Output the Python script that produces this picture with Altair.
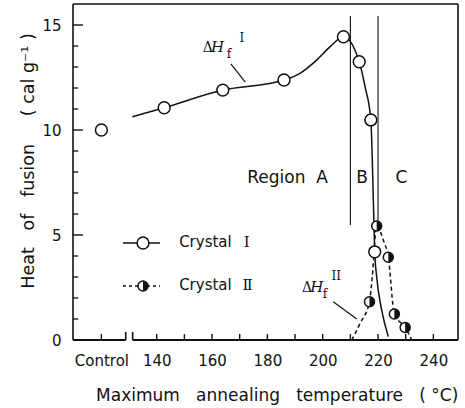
import altair as alt
import pandas as pd

# ---------------- values ----------------
X_DOMAIN = [109.74, 248.9]
Y_DOMAIN = [0, 16]

x_tick_values = [120, 140, 160, 180, 200, 220, 240]
x_tick_labels = ["Control", "140", "160", "180", "200", "220", "240"]
x_all_ticks = [120, 140, 150, 160, 170, 180, 190, 200, 210, 220, 230, 240]
y_tick_values = [0, 5, 10, 15]
y_minor_ticks = [1, 2, 3, 4, 6, 7, 8, 9, 11, 12, 13, 14]
# inward tick lengths, in axis units
X_TICK_LEN = 0.28
Y_MAJOR_LEN = 3.6
Y_MINOR_LEN = 1.9

# Crystal I (open circles)
c1_x = [120, 142.7, 163.9, 186.0, 207.5, 213.2, 217.4, 218.8]
c1_y = [10.0, 11.06, 11.9, 12.38, 14.44, 13.25, 10.48, 4.2]
# Crystal II (half-filled circles)
c2_x = [216.9, 219.5, 223.7, 225.9, 229.8]
c2_y = [1.82, 5.43, 3.94, 1.24, 0.6]

# drawn curves
curve1_x = [131.2, 142.7, 163.9, 186.0, 191.8, 197.8, 202.7, 207.5, 213.2, 215.3,
            217.4, 218.3, 218.8, 219.5, 221.3, 223.7]
curve1_y = [10.63, 11.06, 11.9, 12.38, 12.7, 13.33, 13.97, 14.44, 13.25, 12.06,
            10.48, 6.67, 4.2, 3.01, 1.43, 0.16]
curve2_x = [210.5, 213.5, 216.9, 217.9, 219.5, 221.9, 223.7, 225.9, 229.8, 232.2]
curve2_y = [0.0, 0.79, 1.82, 3.0, 5.43, 4.76, 3.94, 1.24, 0.6, 0.0]

# region boundaries
region_x = [210, 220]
region_y = [5.48, 5.45]
region_y2 = [15.43, 15.43]
region_labels = ["Region\u00a0\u00a0A", "B", "C"]
region_label_x = [187.3, 214.2, 228.5]
region_label_y = [7.48, 7.48, 7.48]

# annotation leader lines
lead_x = [166.8, 203.8]
lead_x2 = [172.0, 212.3]
lead_y = [13.15, 1.82]
lead_y2 = [12.28, 1.0]

# ΔH_f annotation pieces
delta_x = [156.6, 192.5]
delta_y = [13.71, 2.29]
h_x = [159.6, 195.5]
h_y = [13.71, 2.29]
f_x = [165.3, 200.0]
f_y = [13.43, 2.0]
sup_text = ["I", "II"]
sup_x = [169.9, 203.2]
sup_y = [14.19, 2.86]

# legend
legend_line_x = [127.8, 127.8]
legend_line_x2 = [141.2, 141.2]
legend_line_y = [4.62, 2.57]
legend_marker_x = [135.05]
legend_text = ["Crystal", "Crystal"]
legend_text_x = [148.1, 148.1]
legend_text_y = [4.43, 2.38]
legend_num = ["I", "\u2161"]
legend_num_x = [171.5, 171.0]

# frame / broken axis
axis_seg_x = [109.74, 131.3]
axis_seg_x2 = [128.8, 248.9]
break_x = [128.8, 131.3]
break_y2 = [0.38, 0.38]

FONT = "DejaVu Sans"
SERIF = "DejaVu Serif"
INK = "#111111"

XS = alt.Scale(domain=X_DOMAIN, nice=False, zero=False)
YS = alt.Scale(domain=Y_DOMAIN, nice=False, zero=False)

label_expr = " : ".join(
    [f"datum.value == {v} ? '{l}'" for v, l in zip(x_tick_values, x_tick_labels)]
) + " : ''"

NB = "\u00a0"
X_AXIS = alt.Axis(values=x_tick_values, labelExpr=label_expr, ticks=False, domain=False,
                  grid=False, labelFont=FONT, labelFontSize=15, labelColor=INK,
                  labelPadding=13, labelFlush=False,
                  title=f"Maximum{NB*3}annealing{NB*3}temperature{NB*3}({NB}\u00b0C)",
                  titleFont=FONT, titleFontSize=17, titleFontWeight="normal", titleColor=INK,
                  titleX=203.7, titleY=60, titleBaseline="alphabetic", titleAlign="center")
Y_AXIS = alt.Axis(values=y_tick_values, ticks=False, domain=False, grid=False,
                  labelFont=FONT, labelFontSize=15, labelColor=INK, labelPadding=12,
                  title=f"Heat{NB*3}of{NB*3}fusion{NB*5}({NB}cal{NB}g\u207b\u00b9{NB})",
                  titleFont=FONT, titleFontSize=17.5, titleFontWeight="normal", titleColor=INK,
                  titleX=-45, titleY=156.5, titleBaseline="middle", titleAlign="center")


def X(f="x"):
    return alt.X(f"{f}:Q", scale=XS, axis=X_AXIS)


def Y(f="y"):
    return alt.Y(f"{f}:Q", scale=YS, axis=Y_AXIS)


# ---------------- segments: frame, broken axis, inward ticks, leaders ----------------
seg_rows = []
# frame: left, top, right
seg_rows.append((X_DOMAIN[0], X_DOMAIN[0], Y_DOMAIN[0], Y_DOMAIN[1], 1.6))
seg_rows.append((X_DOMAIN[0], X_DOMAIN[1], Y_DOMAIN[1], Y_DOMAIN[1], 1.6))
seg_rows.append((X_DOMAIN[1], X_DOMAIN[1], Y_DOMAIN[0], Y_DOMAIN[1], 1.6))
# broken bottom axis
for a, b in zip(axis_seg_x, axis_seg_x2):
    seg_rows.append((a, b, 0, 0, 1.8))
for a, b in zip(break_x, break_y2):
    seg_rows.append((a, a, 0, b, 1.6))
# inward ticks
for v in x_all_ticks:
    seg_rows.append((v, v, 0, X_TICK_LEN, 1.4))
for v in y_tick_values:
    seg_rows.append((X_DOMAIN[0], X_DOMAIN[0] + Y_MAJOR_LEN, v, v, 1.4))
for v in y_minor_ticks:
    seg_rows.append((X_DOMAIN[0], X_DOMAIN[0] + Y_MINOR_LEN, v, v, 1.3))
# region boundaries
for a, b, c in zip(region_x, region_y, region_y2):
    seg_rows.append((a, a, b, c, 1.1))
# leader lines
for a, b, c, d in zip(lead_x, lead_x2, lead_y, lead_y2):
    seg_rows.append((a, b, c, d, 1.2))
# legend solid line
seg_rows.append((legend_line_x[0], legend_line_x2[0], legend_line_y[0], legend_line_y[0], 1.5))

seg_df = pd.DataFrame(seg_rows, columns=["x", "x2", "y", "y2", "w"])
seg_df["id"] = range(len(seg_df))
segments = alt.Chart(seg_df).mark_rule(color=INK).encode(
    x=X(), x2="x2:Q", y=Y(), y2="y2:Q",
    strokeWidth=alt.StrokeWidth("w:Q", scale=None),
    detail="id:N",
)

# ---------------- layers ----------------
curve1 = alt.Chart(pd.DataFrame({"x": curve1_x, "y": curve1_y, "o": range(len(curve1_x))})).mark_line(
    color=INK, strokeWidth=1.5, interpolate="monotone").encode(x=X(), y=Y(), order="o:Q")
curve2 = alt.Chart(pd.DataFrame({"x": curve2_x, "y": curve2_y, "o": range(len(curve2_x))})).mark_line(
    color=INK, strokeWidth=1.5, strokeDash=[4, 3], interpolate="monotone").encode(
    x=X(), y=Y(), order="o:Q")

leg_lines2 = alt.Chart(pd.DataFrame({"x": legend_line_x[1:], "x2": legend_line_x2[1:],
                                     "y": legend_line_y[1:]})).mark_rule(
    color=INK, strokeWidth=1.5, strokeDash=[3, 3]).encode(x=X(), x2="x2:Q", y=Y())

region_text = alt.Chart(pd.DataFrame({"x": region_label_x, "y": region_label_y, "t": region_labels})).mark_text(
    font=FONT, fontSize=17, color=INK, align="center", baseline="alphabetic").encode(
    x=X(), y=Y(), text="t:N")
leg_text = alt.Chart(pd.DataFrame({"x": legend_text_x, "y": legend_text_y, "t": legend_text})).mark_text(
    font=FONT, fontSize=15, color=INK, align="left", baseline="alphabetic").encode(
    x=X(), y=Y(), text="t:N")
leg_num_t = alt.Chart(pd.DataFrame({"x": legend_num_x, "y": legend_text_y, "t": legend_num})).mark_text(
    font=SERIF, fontSize=15, color=INK, align="left", baseline="alphabetic").encode(
    x=X(), y=Y(), text="t:N")

delta_t = alt.Chart(pd.DataFrame({"x": delta_x, "y": delta_y, "t": ["\u0394", "\u0394"]})).mark_text(
    font=SERIF, fontSize=14, color=INK, align="left", baseline="alphabetic").encode(
    x=X(), y=Y(), text="t:N")
h_t = alt.Chart(pd.DataFrame({"x": h_x, "y": h_y, "t": ["H", "H"]})).mark_text(
    font=SERIF, fontSize=15, fontStyle="italic", color=INK, align="left", baseline="alphabetic").encode(
    x=X(), y=Y(), text="t:N")
f_t = alt.Chart(pd.DataFrame({"x": f_x, "y": f_y, "t": ["f", "f"]})).mark_text(
    font=SERIF, fontSize=12, color=INK, align="left", baseline="alphabetic").encode(
    x=X(), y=Y(), text="t:N")
sup_t = alt.Chart(pd.DataFrame({"x": sup_x, "y": sup_y, "t": sup_text})).mark_text(
    font=SERIF, fontSize=12, color=INK, align="left", baseline="alphabetic").encode(
    x=X(), y=Y(), text="t:N")

HALF = "M0,-1A1,1,0,0,1,0,1Z"
open_pts = alt.Chart(pd.DataFrame({"x": c1_x + legend_marker_x,
                                   "y": c1_y + legend_line_y[:1]})).mark_point(
    shape="circle", filled=True, fill="white", stroke=INK, strokeWidth=1.5, size=140, opacity=1).encode(
    x=X(), y=Y())
half_bg = alt.Chart(pd.DataFrame({"x": c2_x + legend_marker_x,
                                  "y": c2_y + legend_line_y[1:]})).mark_point(
    shape="circle", filled=True, fill="white", stroke=INK, strokeWidth=1.5, size=100, opacity=1).encode(
    x=X(), y=Y())
half_fg = alt.Chart(pd.DataFrame({"x": c2_x + legend_marker_x,
                                  "y": c2_y + legend_line_y[1:]})).mark_point(
    shape=HALF, filled=True, fill=INK, strokeWidth=0, size=100, opacity=1).encode(
    x=X(), y=Y())

chart = alt.layer(
    segments, curve1, curve2, leg_lines2,
    region_text, leg_text, leg_num_t, delta_t, h_t, f_t, sup_t,
    open_pts, half_bg, half_fg,
).properties(
    width=385, height=336,
    padding={"left": 73, "top": 4, "right": 7, "bottom": 68},
    autosize=alt.AutoSizeParams(type="none"),
    background="white",
).configure_view(stroke="transparent")

chart.save("out.html", embed_options={"renderer": "svg", "actions": False})
